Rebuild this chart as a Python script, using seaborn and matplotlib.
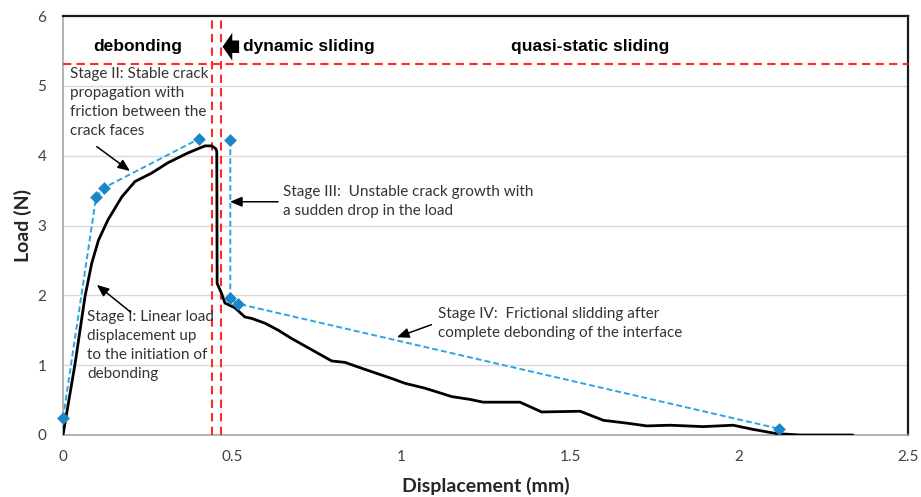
import matplotlib
matplotlib.use("Agg")
import matplotlib.pyplot as plt
import seaborn as sns
import numpy as np
import pandas as pd

# Measured load-displacement curve (black)
disp = [0.0, 0.036, 0.065, 0.085, 0.105, 0.133, 0.174, 0.213, 0.262, 0.311, 0.37,
        0.42, 0.44, 0.452, 0.455, 0.456, 0.469, 0.479, 0.509, 0.538, 0.558, 0.598,
        0.637, 0.677, 0.736, 0.795, 0.834, 0.893, 0.972, 1.012, 1.071, 1.15, 1.204,
        1.243, 1.303, 1.352, 1.416, 1.53, 1.599, 1.668, 1.727, 1.796, 1.894, 1.983,
        2.042, 2.111, 2.18, 2.337]
load = [0.0, 1.03, 1.98, 2.46, 2.79, 3.08, 3.41, 3.63, 3.75, 3.9, 4.04,
        4.14, 4.14, 4.1, 4.06, 2.17, 2.03, 1.89, 1.82, 1.69, 1.67, 1.6,
        1.5, 1.38, 1.22, 1.06, 1.04, 0.94, 0.81, 0.74, 0.67, 0.55, 0.51,
        0.47, 0.47, 0.47, 0.33, 0.34, 0.21, 0.17, 0.13, 0.14, 0.12, 0.14,
        0.08, 0.02, 0.0, 0.0]

# Idealised stage lines (blue dashed, diamond markers)
stage_x = [0.0, 0.098, 0.121, 0.402, 0.495, 0.495, 0.517, 2.118]
stage_y = [0.24, 3.41, 3.54, 4.24, 4.22, 1.96, 1.88, 0.09]
stage_seg = [1, 1, 1, 1, 2, 2, 2, 2]

# Region boundaries (red dashed)
vlines_x = [0.441, 0.467]
hline_y = 5.31

xticks = [0, 0.5, 1, 1.5, 2, 2.5]
xtick_labels = ["0", "0.5", "1", "1.5", "2", "2.5"]
yticks = [0, 1, 2, 3, 4, 5, 6]

sns.set_theme(style="white")
plt.rcParams["font.family"] = ["Lato", "DejaVu Sans"]

fig = plt.figure(figsize=(9.21, 4.97), dpi=100)
ax = fig.add_axes([63/921, 62/497, (908-63)/921, (435-16)/497])

for yv in [1, 2, 3, 4, 5]:
    ax.axhline(yv, color="#d9d9d9", lw=1.0, zorder=0)

curve = pd.DataFrame({"x": disp, "y": load})
sns.lineplot(data=curve, x="x", y="y", sort=False, estimator=None, color="black",
             lw=2.0, ax=ax, zorder=4)

stages = pd.DataFrame({"x": stage_x, "y": stage_y, "seg": stage_seg})
sns.lineplot(data=stages, x="x", y="y", units="seg", sort=False, estimator=None,
             color="#2aa6e0", lw=1.4, dashes=False, linestyle=(0, (3, 1.6)), ax=ax,
             zorder=5)
sns.scatterplot(data=stages, x="x", y="y", marker="D", s=36, color="#1b86c8",
                edgecolor="#1b86c8", ax=ax, zorder=6, clip_on=False)

for xv in vlines_x:
    ax.axvline(xv, color="#ff2a2a", lw=1.5, ls=(0, (4, 2.5)), zorder=3)
ax.axhline(hline_y, color="#ff2a2a", lw=1.5, ls=(0, (4, 2.5)), zorder=3)

ax.set_xlim(0, 2.5)
ax.set_ylim(0, 6)
ax.set_xticks(xticks)
ax.set_xticklabels(xtick_labels)
ax.set_yticks(yticks)
ax.tick_params(axis="both", length=0, labelsize=11, labelcolor="#404040")
ax.tick_params(axis="x", pad=11)
ax.tick_params(axis="y", pad=12)

for s in ["left", "bottom"]:
    ax.spines[s].set_color("#a6a6a6")
    ax.spines[s].set_linewidth(1.2)
for s in ["top", "right"]:
    ax.spines[s].set_color("#1a1a1a")
    ax.spines[s].set_linewidth(1.6)

ax.set_xlabel("Displacement (mm)", fontsize=14, fontweight="bold", labelpad=9)
ax.set_ylabel("Load (N)", fontsize=14, fontweight="bold", labelpad=4)

bold_kw = dict(fontsize=12.5, fontweight="bold", family=["Liberation Sans", "DejaVu Sans"],
               va="center", color="black")
ax.text(0.22, 5.56, "debonding", ha="center", **bold_kw)
ax.text(0.533, 5.56, "dynamic sliding", ha="left", **bold_kw)
ax.text(1.56, 5.56, "quasi-static sliding", ha="center", **bold_kw)

ax.annotate("", xy=(0.472, 5.56), xytext=(0.521, 5.56),
            arrowprops=dict(arrowstyle="simple,head_width=2.0,head_length=0.7,tail_width=0.9",
                            color="black", lw=0, shrinkA=0, shrinkB=0, mutation_scale=10),
            zorder=7)

note_kw = dict(fontsize=11, color="#333333", linespacing=1.45)
ax.text(0.02, 5.27, "Stage II: Stable crack\npropagation with\nfriction between the\ncrack faces",
        ha="left", va="top", **note_kw)
ax.text(0.071, 1.79, "Stage I: Linear load\ndisplacement up\nto the initiation of\ndebonding",
        ha="left", va="top", **note_kw)
ax.text(0.65, 3.58, "Stage III:  Unstable crack growth with\na sudden drop in the load",
        ha="left", va="top", **note_kw)
ax.text(1.11, 1.83, "Stage IV:  Frictional slidding after\ncomplete debonding of the interface",
        ha="left", va="top", **note_kw)

arr = dict(arrowstyle="-|>,head_width=0.25,head_length=0.6", color="black", lw=1.1,
           shrinkA=0, shrinkB=0)
ax.annotate("", xy=(0.198, 3.78), xytext=(0.1, 4.13), arrowprops=arr)
ax.annotate("", xy=(0.1, 2.15), xytext=(0.2, 1.76), arrowprops=arr)
ax.annotate("", xy=(0.494, 3.34), xytext=(0.636, 3.34), arrowprops=arr)
ax.annotate("", xy=(0.988, 1.40), xytext=(1.09, 1.58), arrowprops=arr)

fig.savefig("out.png", dpi=100)
